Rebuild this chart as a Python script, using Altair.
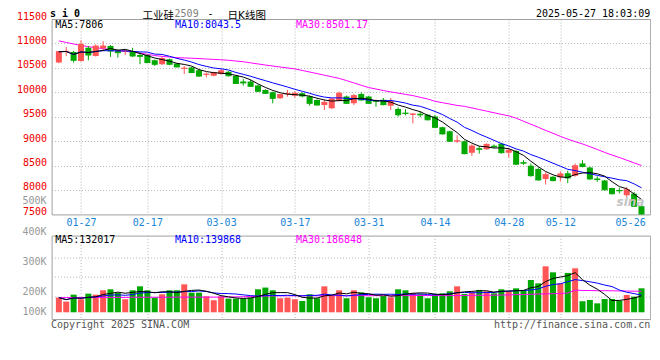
import altair as alt
import pandas as pd

# ---------------- data ----------------
dates = ["01-22", "01-23", "01-24", "01-27",
         "02-05", "02-06", "02-07", "02-10", "02-11", "02-12", "02-13", "02-14", "02-17", "02-18",
         "02-19", "02-20", "02-21", "02-24", "02-25", "02-26", "02-27", "02-28",
         "03-03", "03-04", "03-05", "03-06", "03-07", "03-10", "03-11", "03-12", "03-13", "03-14",
         "03-17", "03-18", "03-19", "03-20", "03-21", "03-24", "03-25", "03-26", "03-27", "03-28", "03-31",
         "04-01", "04-02", "04-03", "04-07", "04-08", "04-09", "04-10", "04-11", "04-14", "04-15",
         "04-16", "04-17", "04-18", "04-21", "04-22", "04-23", "04-24", "04-25", "04-28", "04-29", "04-30",
         "05-06", "05-07", "05-08", "05-09", "05-12", "05-13", "05-14", "05-15", "05-16", "05-19",
         "05-20", "05-21", "05-22", "05-23", "05-26", "05-27"]

opens = [10608, 10830, 10824, 10642, 10912, 10743, 10899, 10946, 10845, 10824,
         10831, 10763, 10763, 10655, 10574, 10676, 10588, 10480, 10507, 10453,
         10358, 10338, 10372, 10419, 10338, 10219, 10219, 10137, 10048, 10000,
         9877, 9959, 9931, 9979, 9911, 9842, 9740, 9671, 9829, 9911,
         9774, 9966, 9911, 9829, 9849, 9726, 9657, 9582, 9541, 9559,
         9538, 9505, 9283, 9202, 8993, 9000, 8764, 8852, 8832, 8906,
         8946, 8764, 8798, 8569, 8495, 8428, 8226, 8273, 8260, 8340,
         8293, 8542, 8462, 8233, 8192, 8038, 7997, 7890, 7923, 7667]
highs = [10845, 10926, 10845, 11061, 10946, 10980, 11047, 10967, 10878, 10878,
         10912, 10811, 10776, 10669, 10723, 10689, 10601, 10540, 10520, 10466,
         10405, 10419, 10486, 10432, 10352, 10274, 10253, 10151, 10062, 10014,
         9966, 10048, 10021, 10000, 9931, 9856, 9849, 9877, 10014, 9931,
         9966, 10000, 9925, 9849, 9883, 9883, 9691, 9650, 9575, 9613,
         9552, 9538, 9296, 9215, 9121, 9013, 8933, 8899, 8953, 8933,
         8966, 8865, 8812, 8610, 8542, 8462, 8361, 8286, 8381, 8394,
         8542, 8610, 8475, 8280, 8206, 8045, 8045, 8058, 7957, 7680]
lows = [10595, 10743, 10608, 10628, 10655, 10730, 10858, 10723, 10709, 10763,
        10723, 10574, 10595, 10540, 10560, 10554, 10507, 10372, 10392, 10318,
        10304, 10325, 10358, 10325, 10168, 10137, 10110, 10007, 9966, 9774,
        9863, 9911, 9890, 9897, 9726, 9726, 9637, 9657, 9815, 9760,
        9740, 9829, 9760, 9705, 9733, 9637, 9500, 9527, 9363, 9490,
        9424, 9270, 9135, 8987, 8966, 8731, 8697, 8744, 8819, 8865,
        8744, 8664, 8515, 8515, 8273, 8192, 8112, 8179, 8179, 8139,
        8273, 8462, 8206, 8165, 7990, 7909, 7930, 7856, 7654, 7440]
closes = [10831, 10838, 10655, 10980, 10763, 10946, 10946, 10845, 10811, 10845,
          10743, 10736, 10608, 10574, 10689, 10574, 10520, 10493, 10405, 10331,
          10372, 10405, 10439, 10338, 10182, 10192, 10123, 10021, 9979, 9877,
          9952, 9973, 9979, 9925, 9774, 9740, 9794, 9863, 9979, 9774,
          9931, 9842, 9774, 9815, 9747, 9815, 9541, 9568, 9555, 9538,
          9437, 9283, 9148, 9000, 9007, 8744, 8899, 8832, 8933, 8886,
          8764, 8812, 8529, 8549, 8293, 8206, 8313, 8192, 8327, 8246,
          8495, 8482, 8226, 8213, 8004, 7923, 7984, 8004, 7667, 7452]
volumes = [118000, 86000, 142000, 105000, 150000, 142000, 177000, 185000, 158000, 105000,
           177000, 209000, 177000, 118000, 145000, 177000, 177000, 225000, 158000, 158000,
           129000, 97000, 129000, 110000, 110000, 110000, 118000, 185000, 199000, 177000,
           113000, 118000, 105000, 91000, 145000, 113000, 209000, 131000, 177000, 113000,
           177000, 161000, 121000, 113000, 131000, 121000, 185000, 177000, 153000, 145000,
           113000, 145000, 153000, 169000, 209000, 148000, 161000, 180000, 169000, 153000,
           185000, 169000, 193000, 180000, 260000, 233000, 370000, 322000, 233000, 317000,
           354000, 89000, 99000, 72000, 107000, 107000, 94000, 140000, 126000, 193000]
price_ma30 = [11052, 11020, 10988, 10958, 10934, 10911, 10894, 10876, 10857, 10838,
              10820, 10801, 10778, 10752, 10735, 10722, 10709, 10703, 10697, 10690,
              10681, 10673, 10665, 10655, 10640, 10625, 10602, 10580, 10558, 10537,
              10518, 10498, 10479, 10447, 10415, 10383, 10350, 10317, 10284, 10240,
              10192, 10143, 10097, 10067, 10036, 10008, 9983, 9957, 9932, 9897,
              9863, 9815, 9787, 9759, 9731, 9712, 9680, 9647, 9614, 9581,
              9548, 9518, 9470, 9408, 9346, 9284, 9220, 9160, 9098, 9040,
              8990, 8943, 8887, 8830, 8770, 8715, 8665, 8610, 8555, 8501]
vol_ma30 = [118000, 118000, 119000, 119000, 119000, 120000, 120000, 120000, 120000, 120000,
            121000, 121000, 121000, 121000, 121000, 121000, 122000, 122000, 122000, 122000,
            122000, 122000, 122000, 123000, 124000, 125000, 127000, 129000, 131000, 132000,
            132000, 133000, 133000, 133000, 133000, 133000, 134000, 134000, 134000, 134000,
            134000, 134000, 134000, 134000, 134000, 134000, 134000, 134000, 135000, 135000,
            135000, 135000, 134000, 134000, 135000, 135000, 136000, 137000, 137000, 138000,
            139000, 140000, 142000, 143000, 145000, 147000, 148000, 150000, 152000, 155000,
            178000, 176000, 175000, 174000, 174000, 173000, 172000, 171000, 170000, 169000]

tick_dates = ["01-27", "02-17", "03-03", "03-17", "03-31", "04-14", "04-28", "05-12", "05-26"]
price_ticks = [7500, 8000, 8500, 9000, 9500, 10000, 10500, 11000, 11500]
vol_grid = [126000, 287000, 443000]
vol_tick_labels = ["100K", "200K", "300K", "400K", "500K"]
vol_tick_at = [-18000, 142500, 380000, 622000, 872000]
price_legend = ["MA5:7806", "MA10:8043.5", "MA30:8501.17"]
vol_legend = ["MA5:132017", "MA10:139868", "MA30:186848"]
symbol = "s i 0"
title_a, title_code, title_dash, title_b = "工业硅", "2509", "-", "日K线图"
stamp = "2025-05-27 18:03:09"
copyright_txt = "Copyright 2025 SINA.COM"
url_txt = "http://finance.sina.com.cn"

# ---------------- styling ----------------
UP, DOWN = "#ff5555", "#00a800"
MONO = "DejaVu Sans Mono"
CJK = "DejaVu Sans, Noto Sans CJK SC"
W, PH, VH = 598.6, 195.4, 83.4
LEG_COLORS = ["#000000", "#0000ff", "#ff00ff"]
LEG_X = [3.6, 123.4, 244.3]

df = pd.DataFrame({
    "i": list(range(len(dates))), "date": dates,
    "open": opens, "high": highs, "low": lows, "close": closes,
    "vol": volumes, "ma30": price_ma30, "vma30": vol_ma30,
})

tick_idx = [dates.index(d) for d in tick_dates]
label_expr = " : ".join(f"datum.value == {i} ? '{d}'" for i, d in zip(tick_idx, tick_dates)) + " : ''"
last_test = f"datum.value == {tick_idx[-1]}"
xgrid_op = {"condition": {"test": last_test, "value": 0}, "value": 1}
last_shift = {"condition": {"test": last_test, "value": -4}, "value": 0}
ygrid_op = {"condition": {"test": f"datum.value == {price_ticks[0]} || datum.value == {price_ticks[-1]}",
                          "value": 0}, "value": 1}

xscale = alt.Scale(domain=[-0.307, 79.5], nice=False, zero=False)
pscale = alt.Scale(domain=[7500, 11500], nice=False, zero=False)
vscale = alt.Scale(domain=[-54000, 617400], nice=False, zero=False)

px_axis = alt.Axis(values=tick_idx, labelExpr=label_expr, labelColor="#1a86d8", labelFont=MONO,
                   labelFontSize=10, labelPadding=3, labelOffset=last_shift, grid=True,
                   gridOpacity=xgrid_op, ticks=False, domain=False, title=None,
                   labelOverlap=False, labelFlush=False)
vx_axis = alt.Axis(values=tick_idx, labels=False, grid=True, gridOpacity=xgrid_op, ticks=False,
                   domain=False, title=None)
py_axis = alt.Axis(values=price_ticks, format="d", labelColor="#ee0000", labelFont=MONO, labelFontSize=10,
                   labelPadding=5, labelBaseline="alphabetic", grid=True, gridOpacity=ygrid_op,
                   ticks=False, domain=False, title=None, labelOverlap=False, labelFlush=False)
vy_axis = alt.Axis(values=vol_grid, labels=False, grid=True, ticks=False, domain=False, title=None)


def PX(f):
    return alt.X(f, scale=xscale, axis=px_axis)


def PY(f):
    return alt.Y(f, scale=pscale, axis=py_axis)


def VX(f):
    return alt.X(f, scale=xscale, axis=vx_axis)


def VY(f):
    return alt.Y(f, scale=vscale, axis=vy_axis)


updown = alt.condition("datum.close >= datum.open", alt.value(UP), alt.value(DOWN))


def txt(text, x, y, color="#000000", size=10, font=MONO, align="left", baseline="alphabetic",
        weight="normal", style="normal", opacity=1):
    return alt.Chart(pd.DataFrame({"t": [text]})).mark_text(
        align=align, baseline=baseline, font=font, fontSize=size, color=color,
        fontWeight=weight, fontStyle=style, opacity=opacity
    ).encode(text="t:N", x=alt.value(x), y=alt.value(y))


base = alt.Chart(df)

wick = base.mark_rule(strokeWidth=1, clip=True).encode(x=PX("i:Q"), y=PY("low:Q"), y2="high:Q", color=updown)
body = base.mark_bar(width=6, clip=True).encode(x=PX("i:Q"), y=PY("open:Q"), y2="close:Q", color=updown)
cross = base.transform_calculate(xa="datum.i - 0.4", xb="datum.i + 0.4").mark_rule(
    strokeWidth=1, clip=True).encode(x=PX("xa:Q"), x2="xb:Q", y=PY("close:Q"), color=updown)
ma5 = base.transform_window(ma5="mean(close)", frame=[-4, 0], sort=[alt.SortField("i")]).mark_line(
    color=LEG_COLORS[0], strokeWidth=1, clip=True).encode(x=PX("i:Q"), y=PY("ma5:Q"))
ma10 = base.transform_window(ma10="mean(close)", frame=[-9, 0], sort=[alt.SortField("i")]).mark_line(
    color=LEG_COLORS[1], strokeWidth=1, clip=True).encode(x=PX("i:Q"), y=PY("ma10:Q"))
ma30 = base.mark_line(color=LEG_COLORS[2], strokeWidth=1, clip=True).encode(x=PX("i:Q"), y=PY("ma30:Q"))

price_layers = [ma30, wick, body, cross, ma10, ma5]
price_layers += [txt(t, x, 9.0, c) for t, x, c in zip(price_legend, LEG_X, LEG_COLORS)]
price_layers += [
    txt("sina", 565, 187, color="#c4c4c4", size=12, font="DejaVu Sans", weight="bold", style="italic"),
    txt(symbol, -1.7, -10.3, size=10, weight="bold", baseline="top"),
    txt(title_a, 91, -0.4, size=10.5, font=CJK),
    txt(title_code, 123, -10.3, color="#808080", size=10, baseline="top"),
    txt(title_dash, 156, -10.3, size=10, baseline="top"),
    txt(title_b, 176, -0.4, size=10.5, font=CJK),
    txt(stamp, W, -10.3, size=10, align="right", baseline="top"),
]
price = alt.layer(*price_layers).properties(width=W, height=PH)

vbars = base.mark_bar(width=6).encode(x=VX("i:Q"), y=VY("vol:Q"), y2=alt.datum(0), color=updown)
vma5 = base.transform_window(v5="mean(vol)", frame=[-4, 0], sort=[alt.SortField("i")]).mark_line(
    color=LEG_COLORS[0], strokeWidth=1).encode(x=VX("i:Q"), y=VY("v5:Q"))
vma10 = base.transform_window(v10="mean(vol)", frame=[-9, 0], sort=[alt.SortField("i")]).mark_line(
    color=LEG_COLORS[1], strokeWidth=1).encode(x=VX("i:Q"), y=VY("v10:Q"))
vma30 = base.mark_line(color=LEG_COLORS[2], strokeWidth=1).encode(x=VX("i:Q"), y=VY("vma30:Q"))
vlabels = alt.Chart(pd.DataFrame({"lab": vol_tick_labels, "at": vol_tick_at})).mark_text(
    align="right", baseline="alphabetic", font=MONO, fontSize=10, color="#999999"
).encode(x=alt.value(-5), y=VY("at:Q"), text="lab:N")

vol_layers = [vbars, vma30, vma10, vma5, vlabels]
vol_layers += [txt(t, x, 7.4, c) for t, x, c in zip(vol_legend, LEG_X, LEG_COLORS)]
vol_layers += [
    txt(copyright_txt, -0.7, 92.4, color="#555555"),
    txt(url_txt, W, 92.4, color="#555555", align="right"),
]
volume = alt.layer(*vol_layers).properties(width=W, height=VH)

chart = alt.vconcat(price, volume, spacing=20.6, bounds="flush").properties(
    padding={"left": 7.6, "top": 0, "right": 0, "bottom": 4},
    autosize=alt.AutoSizeParams(type="pad"),
    background="white",
).configure_view(stroke="#a0a0a0", strokeWidth=1).configure_axis(
    gridColor="#b4b4b4", gridDash=[1, 2], gridWidth=1
)

chart.save("out.html", embed_options={"renderer": "svg", "actions": False})
